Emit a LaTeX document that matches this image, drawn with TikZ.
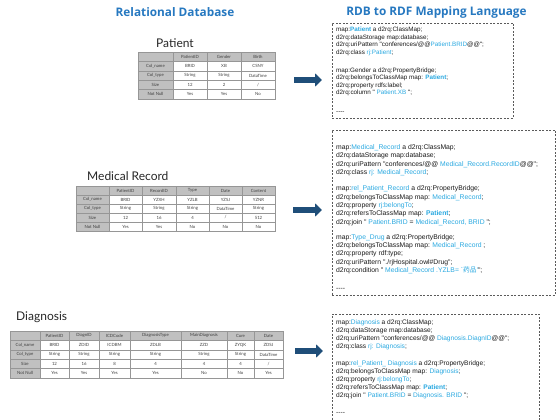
\documentclass[tikz,border=0pt]{standalone}
\usepackage{fontspec}
\setmainfont{Liberation Sans}
\newfontfamily\codefont{Liberation Sans}
\newfontfamily\labelfont{Lato}
\newfontfamily\titlefont{Open Sans}
\newfontfamily\cjk{Noto Sans CJK SC}
\usetikzlibrary{arrows.meta}

\definecolor{titleblue}{RGB}{38,120,192}
\definecolor{hlblue}{RGB}{41,168,224}
\definecolor{arrowblue}{RGB}{31,78,121}
\definecolor{hdrgray}{RGB}{192,192,192}
\definecolor{gridgray}{RGB}{150,150,150}
\definecolor{celltext}{RGB}{64,64,64}
\definecolor{boxgray}{RGB}{90,90,90}

\newcommand{\hlt}[1]{\textcolor{hlblue}{#1}}
\newcommand{\hlbf}[1]{\textcolor{hlblue}{\bfseries #1}}

\begin{document}
\begin{tikzpicture}[x=1pt,y=-1pt]
    \tikzstyle{title}=[font=\titlefont\bfseries\fontsize{11.8}{14}\selectfont,text=titleblue]
    \tikzstyle{tablename}=[anchor=west,inner sep=0pt,font=\labelfont\fontsize{12}{14}\selectfont,text=black!85]
    \tikzstyle{cell}=[draw=gridgray,line width=0.4pt,minimum height=9.4pt,inner sep=0pt,font=\labelfont\fontsize{4.3}{4.3}\selectfont,text=celltext]
    \tikzstyle{mapbox}=[draw=boxgray,line width=0.6pt,dash pattern=on 2pt off 1.5pt,inner sep=0pt]
    \tikzstyle{code}=[anchor=north west,align=left,inner sep=0pt,text=black!90]
    \tikzstyle{maparrow}=[-{Triangle[width=13pt,length=7pt]},line width=5.5pt,draw=arrowblue]

    \useasboundingbox (0,0) rectangle (558,420);

    % titles
    \node[title] (rdb) at (175,12) {Relational Database};
    \node[title] (rdf) at (436.5,12) {RDB to RDF Mapping Language};

    % Patient table
    \node[tablename] (pat) at (156,43) {Patient};
    \fill[hdrgray] (138,52) rectangle (275,61.4);
    \fill[hdrgray] (138,52) rectangle (173,99);
    \foreach \c/\xa/\xb/\va/\vb/\vc/\vd/\ve in {0/138/173/{}/Col\_name/Col\_type/Size/Not Null,
            1/173/207/PatientID/BRID/String/12/Yes, 2/207/241/Gender/XB/String/2/Yes,
            3/241/275/Birth/CSNY/DataTime/{/}/No}
        \foreach \r/\v in {0/\va,1/\vb,2/\vc,3/\vd,4/\ve}
            \node[cell,minimum width={(\xb-\xa)*1pt}] (pat-\c-\r) at ({(\xa+\xb)/2},{52+(\r+0.5)*9.4}) {\v};

    % Medical Record table
    \node[tablename] (med) at (87,176) {Medical Record};
    \fill[hdrgray] (76,186) rectangle (275,195);
    \fill[hdrgray] (76,186) rectangle (109,231);
    \foreach \c/\xa/\xb/\va/\vb/\vc/\vd/\ve in {0/76/109/{}/Col\_name/Col\_type/Size/Not Null,
            1/109/142/PatientID/BRID/String/12/Yes, 2/142/176/RecordID/YZXH/String/16/Yes,
            3/176/209/Type/YZLB/String/4/No, 4/209/242/Date/YZSJ/DataTime/{/}/No,
            5/242/275/Content/YZNR/String/512/No}
        \foreach \r/\v in {0/\va,1/\vb,2/\vc,3/\vd,4/\ve}
            \node[cell,minimum height=9pt,minimum width={(\xb-\xa)*1pt}] (med-\c-\r) at ({(\xa+\xb)/2},{186+(\r+0.5)*9}) {\v};

    % Diagnosis table
    \node[tablename] (dia) at (16,317) {Diagnosis};
    \fill[hdrgray] (10,331) rectangle (283,340.4);
    \fill[hdrgray] (10,331) rectangle (40,378);
    \foreach \c/\xa/\xb/\va/\vb/\vc/\vd/\ve in {0/10/40/{}/Col\_name/Col\_type/Size/Not Null,
            1/40/69/PatientID/BRID/String/12/Yes, 2/69/99/DiagnID/ZDID/String/16/Yes,
            3/99/130/ICDCode/ICDBM/String/8/Yes, 4/130/181/DiagnosisType/ZDLB/String/4/Yes,
            5/181/227/MainDiagnosis/ZZD/String/4/No, 6/227/254/Cure/ZYQK/String/4/No,
            7/254/283/Date/ZDSJ/DataTime/{/}/Yes}
        \foreach \r/\v in {0/\va,1/\vb,2/\vc,3/\vd,4/\ve}
            \node[cell,minimum width={(\xb-\xa)*1pt}] (dia-\c-\r) at ({(\xa+\xb)/2},{331+(\r+0.5)*9.4}) {\v};

    % mapping boxes
    \node[mapbox,minimum width=181pt,minimum height=95pt] (box-1) at (422.5,70.5) {};
    \node[mapbox,minimum width=223pt,minimum height=165pt] (box-2) at (443.5,212.5) {};
    \node[mapbox,minimum width=207pt,minimum height=116pt] (box-3) at (435.5,372) {};

    \node[code,font=\codefont\fontsize{6.3}{7.5}\selectfont] (code-1) at (336,27) {%
        map:\hlbf{Patient} a d2rq:ClassMap;\\
        d2rq:dataStorage map:database;\\
        d2rq:uriPattern "conferences/@@\hlt{Patient.BRID}@@";\\
        d2rq:class \hlt{rj:Patient};\\[10.5pt]
        map:Gender a d2rq:PropertyBridge;\\
        d2rq:belongsToClassMap map: \hlbf{Patient};\\
        d2rq:property rdfs:label;\\
        d2rq:column " \hlt{Patient.XB} ";\\[11pt]
        ----};

    \node[code,font=\codefont\fontsize{6.8}{8.3}\selectfont] (code-2) at (336,144.5) {%
        map:\hlt{Medical\_Record} a d2rq:ClassMap;\\
        d2rq:dataStorage map:database;\\
        d2rq:uriPattern "conferences/@@ \hlt{Medical\_Record.RecordID}@@";\\
        d2rq:class \hlt{rj: Medical\_Record};\\[8pt]
        map:\hlt{rel\_Patient\_Record} a d2rq:PropertyBridge;\\
        d2rq:belongsToClassMap map: \hlt{Medical\_Record};\\
        d2rq:property \hlt{rj:belongTo};\\
        d2rq:refersToClassMap map: \hlbf{Patient};\\
        d2rq:join " \hlt{Patient.BRID} = \hlt{Medical\_Record, BRID} ";\\[7pt]
        map:\hlt{Type\_Drug} a d2rq:PropertyBridge;\\
        d2rq:belongsToClassMap map: \hlt{Medical\_Record} ;\\
        d2rq:property rdf:type;\\
        d2rq:uriPattern "./rjHospital.owl\#Drug";\\
        d2rq:condition " \hlt{Medical\_Record .YZLB= `{\cjk 药品}'}";\\[10pt]
        ----};

    \node[code,font=\codefont\fontsize{6.6}{8}\selectfont] (code-3) at (336,319.5) {%
        map:\hlt{Diagnosis} a d2rq:ClassMap;\\
        d2rq:dataStorage map:database;\\
        d2rq:uriPattern "conferences/@@ \hlt{Diagnosis.DiagnID}@@";\\
        d2rq:class \hlt{rj: Diagnosis};\\[9pt]
        map:\hlt{rel\_Patient\_ Diagnosis} a d2rq:PropertyBridge;\\
        d2rq:belongsToClassMap map: \hlt{Diagnosis};\\
        d2rq:property \hlt{rj:belongTo};\\
        d2rq:refersToClassMap map: \hlbf{Patient};\\
        d2rq:join " \hlt{Patient.BRID} = \hlt{Diagnosis. BRID} ";\\[9pt]
        ----};

    % arrows
    \coordinate (a1-from) at (294,80);  \coordinate (a1-to) at (322,80);
    \coordinate (a2-from) at (293,210); \coordinate (a2-to) at (322,210);
    \coordinate (a3-from) at (295,351); \coordinate (a3-to) at (323,351);
    \foreach \i in {1,2,3}
        \draw[maparrow] (a\i-from) -- (a\i-to);
\end{tikzpicture}
\end{document}
